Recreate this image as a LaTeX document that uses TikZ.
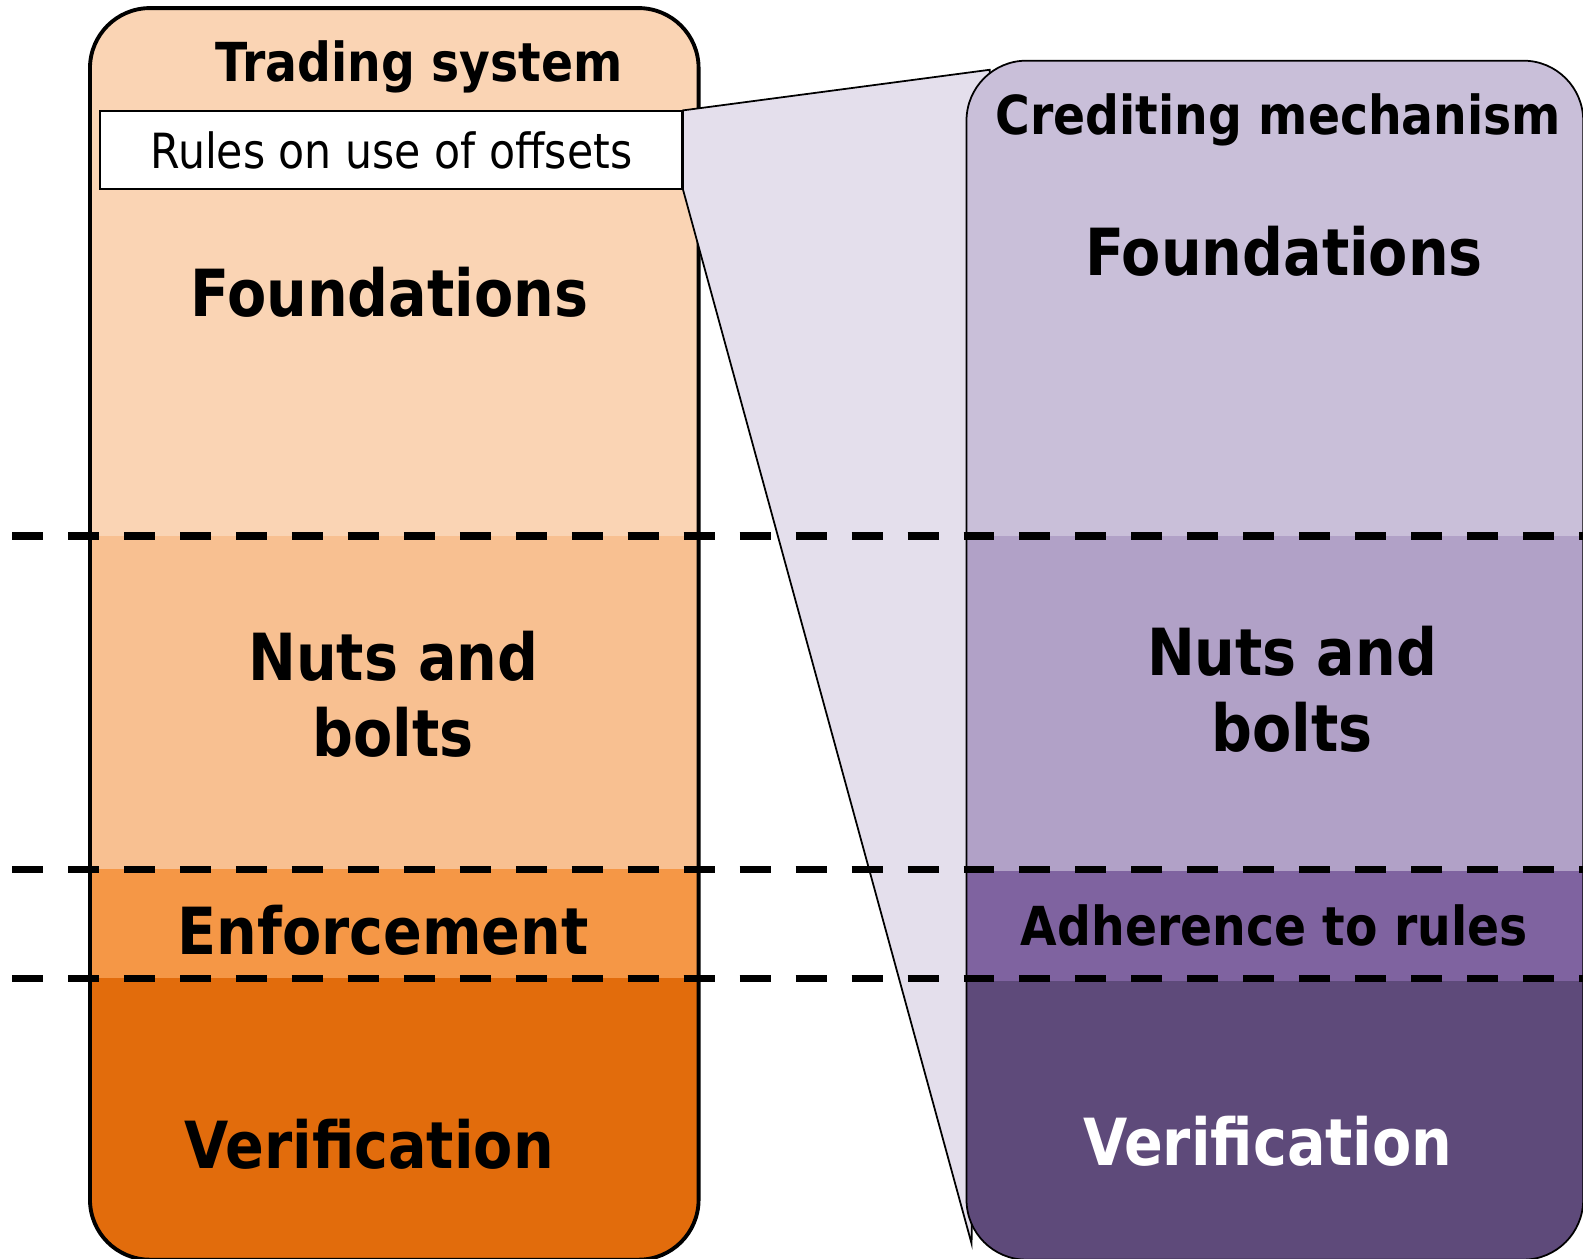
\documentclass[tikz,border=0pt]{standalone}
\usepackage{fontspec}
\setmainfont{DejaVu Sans}[FakeStretch=0.88]
\usetikzlibrary{positioning}

\definecolor{lfound}{HTML}{FAD4B4}
\definecolor{lnuts}{HTML}{F8C091}
\definecolor{lenf}{HTML}{F59746}
\definecolor{lver}{HTML}{E26C0C}
\definecolor{rfound}{HTML}{C9BFD9}
\definecolor{rnuts}{HTML}{B1A1C7}
\definecolor{radh}{HTML}{7F63A0}
\definecolor{rver}{HTML}{5E4A7A}
\definecolor{funnel}{HTML}{E4DFEC}

\begin{document}
\begin{tikzpicture}[x=0.01011cm, y=-0.01011cm,
    band/.style={font=\bfseries\fontsize{18.5}{21.6}\selectfont, align=center, inner sep=0},
    head/.style={font=\bfseries\fontsize{15.3}{18}\selectfont, inner sep=0},
    dashline/.style={line width=2.1pt, dash pattern=on 0.31cm off 0.25cm}]
      \useasboundingbox (0,0) rectangle (1565.8,1245.3);

      % Trading system column
      \begin{scope}
        \clip[rounded corners=0.6cm] (89,8) rectangle (691,1246);
        \fill[lfound] (89,8) rectangle (691,530);
        \fill[lnuts] (89,530) rectangle (691,860);
        \fill[lenf] (89,860) rectangle (691,967);
        \fill[lver] (89,967) rectangle (691,1246);
      \end{scope}
      \draw[line width=1.1pt, rounded corners=0.6cm] (89,8) rectangle (691,1246);

      \node[draw, fill=white, line width=0.5pt, inner sep=0,
            minimum width=5.823cm, minimum height=0.778cm,
            font=\fontsize{13.8}{16}\selectfont] (rules) at (387,148.5) {Rules on use of offsets};

      % Funnel
      \coordinate (ftop) at (979,69);
      \coordinate (ftip) at (961,1230);
      \filldraw[fill=funnel, line width=0.5pt] (rules.north east) -- (ftop) -- (ftip) -- (rules.south east) -- cycle;

      % Crediting mechanism column
      \begin{scope}
        \clip[rounded corners=0.6cm] (956,60) rectangle (1566,1246);
        \fill[rfound] (956,60) rectangle (1566,530);
        \fill[rnuts] (956,530) rectangle (1566,862);
        \fill[radh] (956,862) rectangle (1566,970);
        \fill[rver] (956,970) rectangle (1566,1246);
      \end{scope}
      \draw[line width=0.5pt, rounded corners=0.6cm] (956,60) rectangle (1566,1246);

      % Labels
      \node[head] (tstitle) at (414.5,66) {Trading system};
      \node[band] (lfoundtxt) at (385,289) {Foundations};
      \node[band] (lnutstxt) at (389,686.5) {Nuts and\\bolts};
      \node[band] (lenftxt) at (379,920) {Enforcement};
      \node[band] (lvertxt) at (365,1132) {Verification};

      \node[head] (cmtitle) at (1264.5,119) {Crediting mechanism};
      \node[band] (rfoundtxt) at (1270,249) {Foundations};
      \node[band] (rnutstxt) at (1278,682) {Nuts and\\bolts};
      \node[head] (radhtxt) at (1260.5,915) {Adherence to rules};
      \node[band, text=white] (rvertxt) at (1254,1128.5) {Verification};

      % Layer borders
      \foreach \y in {530,860,968}
        \draw[dashline] (12,\y) -- (1566,\y);
\end{tikzpicture}
\end{document}
